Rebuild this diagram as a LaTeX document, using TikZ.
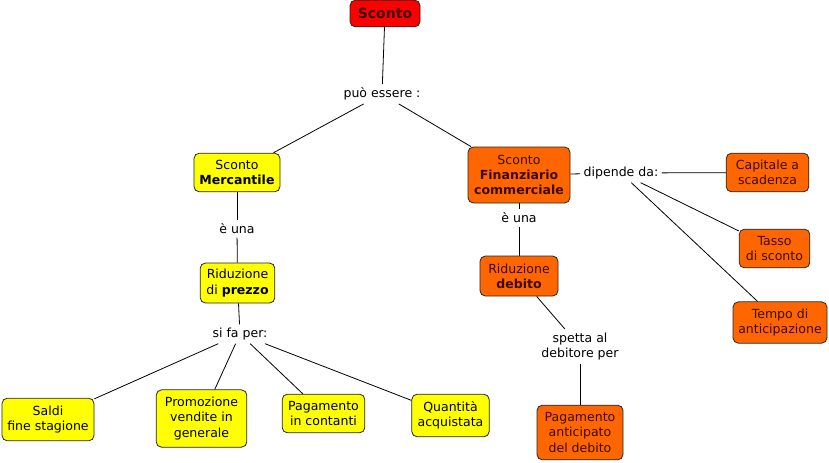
\documentclass[tikz,border=0pt]{standalone}
\usepackage{fontspec}
\setmainfont{DejaVu Sans}

\definecolor{rootred}{RGB}{255,0,0}
\definecolor{boxorange}{RGB}{255,102,0}
\definecolor{boxyellow}{RGB}{255,255,0}
\definecolor{darktext}{RGB}{60,10,0}

\tikzset{
  concept/.style={draw=black!85, line width=0.6pt, rounded corners=4pt, align=center,
    font=\fontsize{9.4}{11.5}\selectfont, inner sep=1pt},
  yellowbox/.style={concept, fill=boxyellow},
  orangebox/.style={concept, fill=boxorange, text=darktext},
  linkword/.style={align=center, font=\fontsize{9.4}{11.8}\selectfont, inner sep=2.5pt},
  link/.style={line width=0.6pt}
}

\begin{document}
\begin{tikzpicture}[x=0.75pt, y=-0.75pt]
	\useasboundingbox (0,0) rectangle (829,462);

	% root
	\node[concept, fill=rootred, text=darktext, font=\fontsize{10.5}{12}\selectfont\bfseries,
	      minimum width=52.5pt, minimum height=20pt] (sconto) at (385,13.5) {Sconto};
	\node[linkword] (puo) at (382,94) {può essere :};

	% left branch
	\node[yellowbox, minimum width=64.5pt, minimum height=29pt] (merc) at (237,172.5) {Sconto\\\textbf{Mercantile}};
	\node[linkword] (unaleft) at (237,229) {è una};
	\node[yellowbox, minimum width=56pt, minimum height=30pt] (ridprezzo) at (237.5,283) {Riduzione\\di \textbf{prezzo}};
	\node[linkword] (sifa) at (240,334) {si fa per:};
	\node[yellowbox, minimum width=69pt, minimum height=32pt] (saldi) at (48,419.5) {Saldi\\fine stagione};
	\node[yellowbox, minimum width=68pt, minimum height=43pt] (promo) at (201.5,418.5) {Promozione\\vendite in\\generale};
	\node[yellowbox, minimum width=62pt, minimum height=29pt] (contanti) at (323.5,413.5) {Pagamento\\in contanti};
	\node[yellowbox, minimum width=58pt, minimum height=32pt] (quantita) at (450.5,415.5) {Quantità\\acquistata};

	% right branch
	\node[orangebox, minimum width=76.5pt, minimum height=42pt] (fin) at (519,175) {Sconto\\\textbf{Finanziario}\\\textbf{commerciale}};
	\node[linkword] (dipende) at (621,173) {dipende da:};
	\node[orangebox, minimum width=62pt, minimum height=29pt] (capitale) at (767.5,172.5) {Capitale a\\scadenza};
	\node[orangebox, minimum width=53pt, minimum height=29pt] (tasso) at (774.5,248.5) {Tasso\\di sconto};
	\node[orangebox, minimum width=70.5pt, minimum height=31pt] (tempo) at (780,322.5) {Tempo di\\anticipazione};
	\node[linkword] (unaright) at (519,218) {è una};
	\node[orangebox, minimum width=58.5pt, minimum height=30pt] (riddebito) at (519,276) {Riduzione\\\textbf{debito}};
	\node[linkword] (spetta) at (580,346.5) {spetta al\\debitore per};
	\node[orangebox, minimum width=64.5pt, minimum height=41pt] (anticipato) at (580,432.5) {Pagamento\\anticipato\\del debito};

	% connectors
	\draw[link] (sconto) -- (puo);
	\draw[link] (puo) -- (merc);
	\draw[link] (puo) -- (fin);

	\draw[link] (merc) -- (unaleft);
	\draw[link] (unaleft) -- (ridprezzo);
	\draw[link] (ridprezzo) -- (sifa);
	\draw[link] (sifa) -- (saldi);
	\draw[link] (sifa) -- (promo);
	\draw[link] (sifa) -- (contanti);
	\draw[link] (sifa) -- (quantita);

	\draw[link] (fin) -- (dipende);
	\draw[link] (dipende) -- (capitale);
	\draw[link] (dipende) -- (tasso);
	\draw[link] (dipende) -- (tempo);
	\draw[link] (fin) -- (unaright);
	\draw[link] (unaright) -- (riddebito);
	\draw[link] (riddebito) -- (spetta);
	\draw[link] (spetta) -- (anticipato);

\end{tikzpicture}
\end{document}
